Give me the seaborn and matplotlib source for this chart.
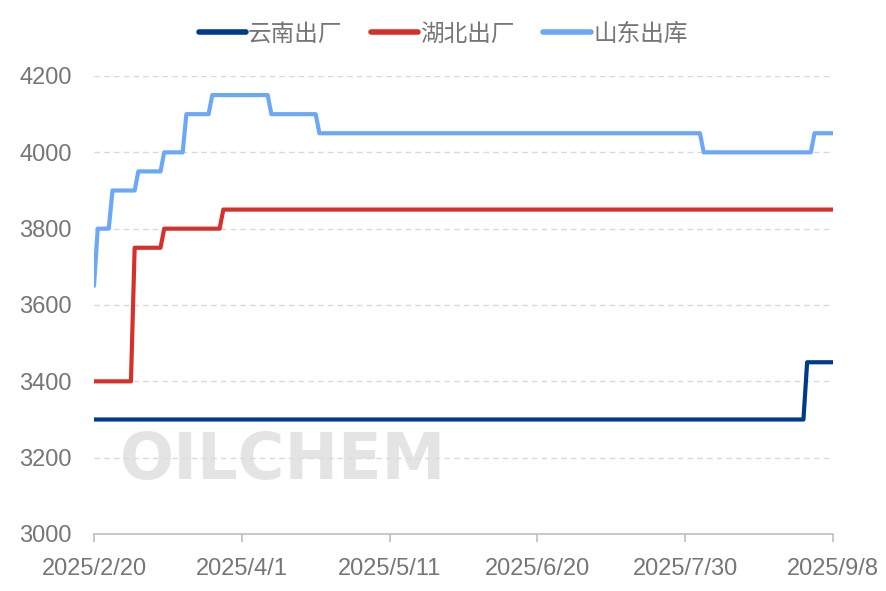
import pandas as pd
import matplotlib.pyplot as plt
import seaborn as sns

# price change points (date, price) for each series
yunnan_dates = ['2025-02-20', '2025-09-01']
yunnan_prices = [3300, 3450]

hubei_dates = ['2025-02-20', '2025-03-03', '2025-03-11', '2025-03-27']
hubei_prices = [3400, 3750, 3800, 3850]

shandong_dates = ['2025-02-20', '2025-02-21', '2025-02-25', '2025-03-04', '2025-03-11',
                  '2025-03-17', '2025-03-24', '2025-04-09', '2025-04-22', '2025-08-04',
                  '2025-09-03']
shandong_prices = [3650, 3800, 3900, 3950, 4000, 4100, 4150, 4100, 4050, 4000, 4050]

series_names = ['云南出厂', '湖北出厂', '山东出库']
series_colors = ['#003A8C', '#D5312A', '#6CA8F8']
tick_dates = ['2025-02-20', '2025-04-01', '2025-05-11', '2025-06-20', '2025-07-30', '2025-09-08']

start, end = pd.Timestamp('2025-02-20'), pd.Timestamp('2025-09-08')
days = pd.date_range(start, end, freq='D')

# daily price table: each price holds until the next change
frames = []
for name, d, p in zip(series_names,
                      [yunnan_dates, hubei_dates, shandong_dates],
                      [yunnan_prices, hubei_prices, shandong_prices]):
    s = pd.Series(p, index=pd.to_datetime(d)).reindex(days).ffill()
    frames.append(pd.DataFrame({'date': days, 'price': s.values, 'series': name}))
df = pd.concat(frames, ignore_index=True)

sns.set_theme(style='white')
plt.rcParams['font.family'] = ['Liberation Sans', 'Noto Sans CJK SC', 'DejaVu Sans']

fig = plt.figure(figsize=(8.86, 5.91), dpi=100)
ax = fig.add_axes([94 / 886, 57 / 591, 739 / 886, 458 / 591])

# watermark
fig.text(283 / 886, 130 / 591, 'OILCHEM', ha='center', va='center', fontsize=46,
         fontweight='bold', color='#DCDCDC', alpha=0.75, family='DejaVu Sans', zorder=0)

sns.lineplot(data=df, x='date', y='price', hue='series', hue_order=series_names,
             palette=series_colors, linewidth=3, ax=ax, legend=False)

ax.set_xlim(start, end)
ax.set_ylim(3000, 4200)
ax.set_yticks(range(3000, 4201, 200))
ticks = pd.to_datetime(tick_dates)
ax.set_xticks(ticks)
ax.set_xticklabels([f'{t.year}/{t.month}/{t.day}' for t in ticks])
ax.set_xlabel('')
ax.set_ylabel('')

ax.grid(axis='y', linestyle=(0, (4, 3)), color='#D9D9D9', linewidth=1)
ax.grid(axis='x', visible=False)
for side in ['top', 'right', 'left']:
    ax.spines[side].set_visible(False)
ax.spines['bottom'].set_color('#BFBFBF')
ax.spines['bottom'].set_linewidth(1.2)
ax.tick_params(axis='x', colors='#BFBFBF', direction='out', length=6, width=1.2,
               labelcolor='#767676', labelsize=17, pad=11, bottom=True)
ax.tick_params(axis='y', length=0, labelcolor='#767676', labelsize=17, pad=16)
ax.set_axisbelow(True)

handles = [plt.Line2D([], [], color=c, linewidth=4, solid_capstyle='round') for c in series_colors]
fig.legend(handles, series_names, loc='center', bbox_to_anchor=(0.5, 1 - 34 / 591), ncol=3,
           frameon=False, prop={'family': ['Noto Sans CJK SC'], 'size': 17},
           labelcolor='#767676', handlelength=2.0, handletextpad=0.1, columnspacing=1.2)

fig.savefig('out.png', dpi=100)
plt.close(fig)
